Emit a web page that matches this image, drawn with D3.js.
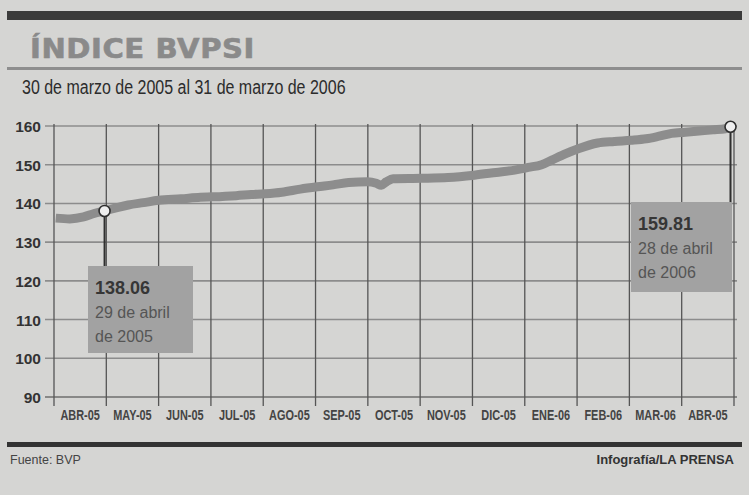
<!DOCTYPE html>
<html>
<head>
<meta charset="utf-8">
<script src="https://cdn.jsdelivr.net/npm/d3@7"></script>
<style>
    html, body { margin: 0; padding: 0; background: #d5d5d3; }
    svg { display: block; }
</style>
</head>
<body>
<script>
// ---------------------- DATA ----------------------

const monthLabels = ["ABR-05", "MAY-05", "JUN-05", "JUL-05", "AGO-05", "SEP-05", "OCT-05",
    "NOV-05", "DIC-05", "ENE-06", "FEB-06", "MAR-06", "ABR-05"];

const yTicks = [90, 100, 110, 120, 130, 140, 150, 160];

const dates = [
    "2005-04-01", "2005-04-09", "2005-04-17", "2005-04-23", "2005-04-29",
    "2005-05-07", "2005-05-13", "2005-05-22", "2005-05-31", "2005-06-13",
    "2005-06-24", "2005-07-01", "2005-07-15", "2005-07-24", "2005-08-01",
    "2005-08-11", "2005-08-22", "2005-09-01", "2005-09-10", "2005-09-19",
    "2005-09-30", "2005-10-05", "2005-10-08", "2005-10-11", "2005-10-15",
    "2005-11-01", "2005-11-16", "2005-12-01", "2005-12-14", "2005-12-25",
    "2006-01-02", "2006-01-10", "2006-01-16", "2006-01-24", "2006-02-01",
    "2006-02-11", "2006-02-20", "2006-03-01", "2006-03-10", "2006-03-17",
    "2006-03-25", "2006-04-02", "2006-04-10", "2006-04-18", "2006-04-25",
    "2006-04-28"
];

const values = [
    136.2, 136.0, 136.5, 137.4, 138.06,
    139.0, 139.6, 140.2, 140.8, 141.2,
    141.6, 141.7, 142.0, 142.3, 142.5,
    142.9, 143.7, 144.3, 144.8, 145.4,
    145.6, 145.2, 144.7, 145.6, 146.4,
    146.5, 146.7, 147.3, 148.0, 148.6,
    149.3, 150.0, 151.2, 152.8, 154.2,
    155.6, 156.0, 156.3, 156.7, 157.3,
    158.1, 158.4, 158.7, 159.0, 159.3,
    159.81
];

const callouts = [
    { index: 4, value: "138.06", lines: ["29 de abril", "de 2005"] },
    { index: 45, value: "159.81", lines: ["28 de abril", "de 2006"] }
];

// ---------------------- UTILITY FUNCTIONS ----------------------

/**
 * Turn an ISO date into a fractional month count from April 2005
 * (the grid has equal-width months, like the printed chart)
 */
function monthPosition(iso) {
    const [y, m, d] = iso.split("-").map(Number);
    const daysInMonth = new Date(y, m, 0).getDate();
    return (y - 2005) * 12 + (m - 4) + d / daysInMonth;
}

/**
 * Append a horizontally scaled text (no narrow / extended font is installed)
 */
function narrowText(parent, x, y, squeeze) {
    return parent.append("text")
        .attr("transform", `translate(${x},${y}) scale(${squeeze},1)`);
}

// ---------------------- MAIN RENDER FUNCTION ----------------------

function renderChart() {
    const width = 749, height = 495;

    const svg = d3.select("body").append("svg")
        .attr("width", width)
        .attr("height", height);

    svg.append("rect")
        .attr("width", width)
        .attr("height", height)
        .attr("fill", "#d5d5d3");

    const x = d3.scaleLinear().domain([0, monthLabels.length]).range([54, 734]);
    const y = d3.scaleLinear().domain([90, 160]).range([397, 126]);

    const points = dates.map((d, i) => ({ m: monthPosition(d), v: values[i] }));

    renderHeader(svg);
    renderGrid(svg, x, y);
    renderLine(svg, x, y, points);
    renderCallouts(svg, x, y, points);
    renderFooter(svg);
}

function renderHeader(svg) {
    // dark rule on top
    svg.append("rect")
        .attr("x", 7).attr("y", 11)
        .attr("width", 735).attr("height", 9)
        .attr("fill", "#3b3b3b");

    // wide, heavy title
    narrowText(svg, 30, 58, 1.12)
        .attr("font-family", "DejaVu Sans")
        .attr("font-weight", "bold")
        .attr("font-size", 26)
        .attr("letter-spacing", 0.5)
        .attr("fill", "#8a8a8a")
        .attr("stroke", "#8a8a8a")
        .attr("stroke-width", 0.6)
        .text("ÍNDICE BVPSI");

    svg.append("rect")
        .attr("x", 7).attr("y", 67)
        .attr("width", 735).attr("height", 3)
        .attr("fill", "#8e8e8e");

    narrowText(svg, 22, 94, 0.82)
        .attr("font-family", "Liberation Sans")
        .attr("font-size", 19.5)
        .attr("fill", "#2c2c2c")
        .text("30 de marzo de 2005 al 31 de marzo de 2006");
}

function renderGrid(svg, x, y) {
    const grid = svg.append("g");

    // horizontal lines
    grid.selectAll(".hline")
        .data(yTicks)
        .enter().append("line")
        .attr("class", "hline")
        .attr("x1", 45).attr("x2", 737)
        .attr("y1", d => y(d)).attr("y2", d => y(d))
        .attr("stroke", d => d === 90 ? "#6e6e6e" : "#8c8c8c")
        .attr("stroke-width", 1.6);

    // vertical month lines, poking below the axis as ticks
    grid.selectAll(".vline")
        .data(d3.range(monthLabels.length + 1))
        .enter().append("line")
        .attr("class", "vline")
        .attr("x1", d => x(d)).attr("x2", d => x(d))
        .attr("y1", y(160) - 2).attr("y2", y(90) + 9)
        .attr("stroke", "#555")
        .attr("stroke-width", 1.3);

    grid.selectAll(".ylabel")
        .data(yTicks)
        .enter().append("text")
        .attr("class", "ylabel")
        .attr("x", 41)
        .attr("y", d => y(d) + 6)
        .attr("text-anchor", "end")
        .attr("font-family", "Liberation Sans")
        .attr("font-weight", "bold")
        .attr("font-size", 15.5)
        .attr("fill", "#333")
        .text(d => d);

    monthLabels.forEach((label, i) => {
        narrowText(grid, x(i + 0.5), 420, 0.78)
            .attr("text-anchor", "middle")
            .attr("font-family", "Liberation Sans")
            .attr("font-weight", "bold")
            .attr("font-size", 14)
            .attr("fill", "#444")
            .text(label);
    });
}

function renderLine(svg, x, y, points) {
    const line = d3.line()
        .x(d => x(d.m))
        .y(d => y(d.v))
        .curve(d3.curveMonotoneX);

    svg.append("path")
        .datum(points)
        .attr("d", line)
        .attr("fill", "none")
        .attr("stroke", "#8d8d8d")
        .attr("stroke-width", 9)
        .attr("stroke-linecap", "butt")
        .attr("stroke-linejoin", "round");
}

function renderCallouts(svg, x, y, points) {
    // box layout for each callout: left edge and top of the grey label box
    const boxes = [
        { left: 88, top: 266, w: 105, h: 87 },
        { left: 631, top: 202, w: 101, h: 90 }
    ];

    callouts.forEach((c, i) => {
        const p = points[c.index];
        const b = boxes[i];
        const g = svg.append("g");

        g.append("rect")
            .attr("x", b.left).attr("y", b.top)
            .attr("width", b.w).attr("height", b.h)
            .attr("fill", "#a2a2a2");

        g.append("line")
            .attr("x1", x(p.m)).attr("x2", x(p.m))
            .attr("y1", y(p.v)).attr("y2", b.top)
            .attr("stroke", "#2f2f2f")
            .attr("stroke-width", 2);

        g.append("circle")
            .attr("cx", x(p.m)).attr("cy", y(p.v))
            .attr("r", 5.5)
            .attr("fill", "#efefef")
            .attr("stroke", "#2f2f2f")
            .attr("stroke-width", 1.6);

        g.append("text")
            .attr("x", b.left + 7).attr("y", b.top + 28)
            .attr("font-family", "Liberation Sans")
            .attr("font-weight", "bold")
            .attr("font-size", 18)
            .attr("fill", "#363636")
            .text(c.value);

        c.lines.forEach((t, j) => {
            g.append("text")
                .attr("x", b.left + 7).attr("y", b.top + 52 + j * 24)
                .attr("font-family", "Liberation Sans")
                .attr("font-size", 16)
                .attr("fill", "#555")
                .text(t);
        });
    });
}

function renderFooter(svg) {
    svg.append("rect")
        .attr("x", 7).attr("y", 442)
        .attr("width", 735).attr("height", 5)
        .attr("fill", "#333");

    svg.append("text")
        .attr("x", 10).attr("y", 464)
        .attr("font-family", "Liberation Sans")
        .attr("font-size", 12.5)
        .attr("fill", "#444")
        .text("Fuente: BVP");

    svg.append("text")
        .attr("x", 734).attr("y", 464)
        .attr("text-anchor", "end")
        .attr("font-family", "Liberation Sans")
        .attr("font-weight", "bold")
        .attr("font-size", 13)
        .attr("fill", "#333")
        .text("Infografía/LA PRENSA");
}

// ---------------------- INITIALIZE CHART ----------------------

renderChart();
</script>
</body>
</html>
